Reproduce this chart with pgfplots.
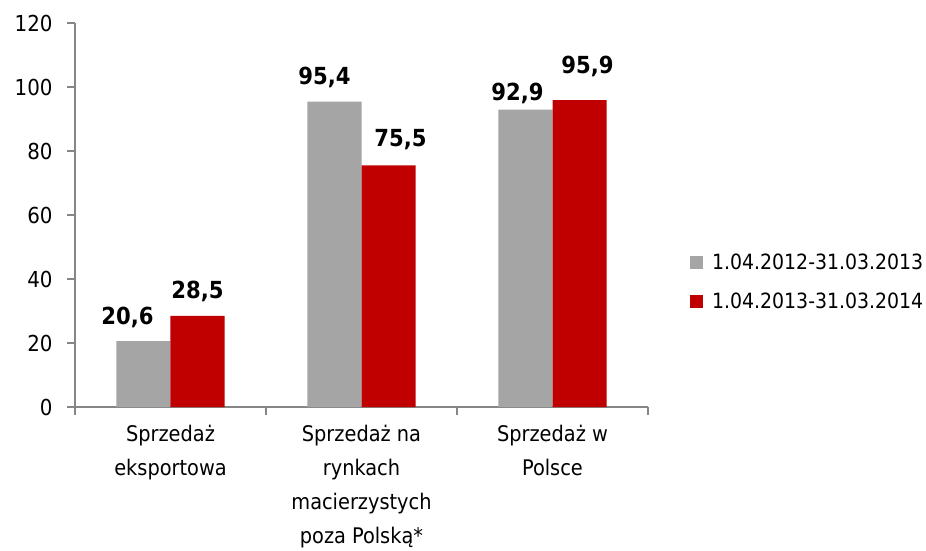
\documentclass[border=0pt]{standalone}
\usepackage{pgfplots}
\pgfplotsset{compat=1.18}
\usepackage{pgfplotstable}
\usepackage{fontspec}
\setmainfont{DejaVu Sans Condensed}
\definecolor{cGray}{HTML}{A5A5A5}
\definecolor{cRed}{HTML}{C00000}
\definecolor{cAxis}{HTML}{868686}

% x  y  dx (label shift)  dy (baseline above bar top)
\pgfplotstableread{
x y dx dy
0 20.6 -16 17
1 95.4 -10 17
2 92.9 -8 9
}\tabA
\pgfplotstableread{
x y dx dy
0 28.5 0 17
1 75.5 12 19
2 95.9 8 27
}\tabB

\begin{document}
\begin{tikzpicture}
\useasboundingbox (-75pt,-143pt) rectangle (851pt,407pt);
\begin{axis}[
  scale only axis, width=573pt, height=384pt,
  at={(0pt,0pt)}, anchor=south west,
  ybar=0pt, bar width=0.283,
  xmin=-0.5, xmax=2.5, ymin=0, ymax=120,
  axis lines*=left,
  axis line style={cAxis, line width=1.2pt},
  tick style={cAxis, line width=1.2pt},
  tick align=outside, major tick length=8pt,
  ytick={0,20,...,120},
  xtick={-0.5,0.5,1.5,2.5}, xticklabels={,,,},
  extra x ticks={0,1,2},
  extra x tick labels={Sprzedaż\\eksportowa, Sprzedaż na\\rynkach\\macierzystych\\poza Polską*, Sprzedaż w\\Polsce},
  extra x tick style={major tick length=0pt,
    xticklabel style={align=center, font=\fontsize{21.5}{34}\selectfont, yshift=-15pt}},
  yticklabel style={font=\fontsize{22}{25}\selectfont, xshift=-11pt},
  tick label style={/pgf/number format/assume math mode=true},
  visualization depends on={\thisrow{dx} \as \dx},
  visualization depends on={\thisrow{dy} \as \dy},
  nodes near coords={\pgfmathprintnumber[fixed, fixed zerofill, precision=1, use comma, assume math mode=true]{\pgfplotspointmeta}},
  nodes near coords style={font=\bfseries\fontsize{23.5}{23.5}\selectfont, text=black,
    anchor=base, inner sep=0pt, xshift=\dx pt, yshift=\dy pt},
  legend style={draw=none, fill=none, font=\fontsize{21}{25}\selectfont,
    at={(1.068,0.3255)}, anchor=west, legend cell align=left, row sep=18pt,
    nodes={inner sep=2pt}},
  legend image code/.code={\fill[#1, draw=none] (0pt,-6.5pt) rectangle (13pt,6.5pt); \path (20pt,0pt);},
]
\addplot[fill=cGray, draw=none] table[x=x, y=y] {\tabA};
\addplot[fill=cRed, draw=none] table[x=x, y=y] {\tabB};
\legend{1.04.2012-31.03.2013, 1.04.2013-31.03.2014}
\end{axis}
\end{tikzpicture}
\end{document}
